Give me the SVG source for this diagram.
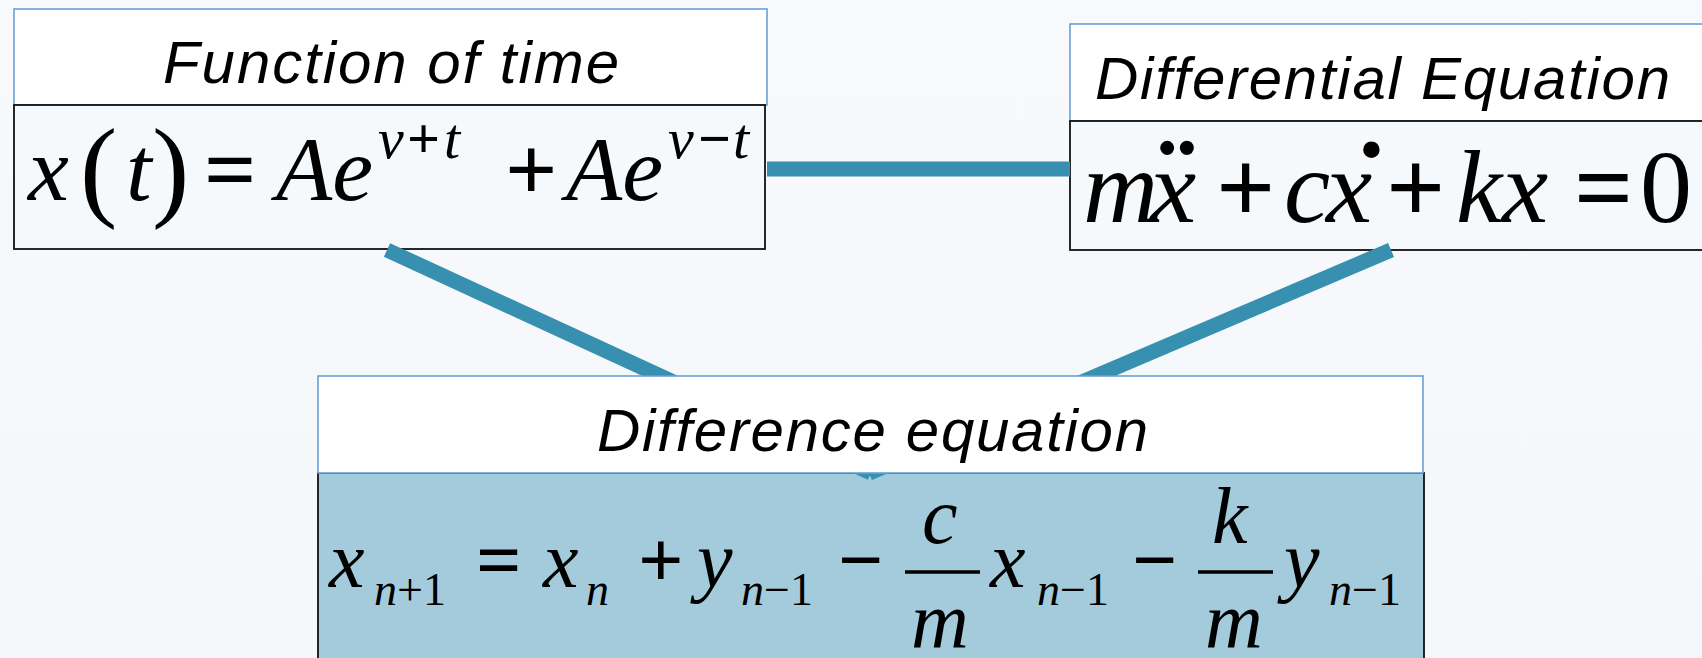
<svg xmlns="http://www.w3.org/2000/svg" width="1702" height="658" viewBox="0 0 1702 658">
<defs>
<linearGradient id="bg" x1="0" y1="0" x2="0" y2="1">
<stop offset="0" stop-color="#f8f9fd"/>
<stop offset="1" stop-color="#f4f8fa"/>
</linearGradient>
<style>
.hdr{fill:#ffffff;stroke:#6a9fd6;stroke-width:1.6}
.body{fill:#f6f9fb;stroke:#111111;stroke-width:1.8}
.body3{fill:#a3cbdb;stroke:#111111;stroke-width:1.8}
.title{font-family:"Liberation Sans",Arial,sans-serif;font-style:italic;font-size:60px;fill:#000}
.mi{font-family:"Liberation Serif","Times New Roman",serif;font-style:italic;fill:#000}
.mo{font-family:"Liberation Serif","Times New Roman",serif;fill:#000}
.op{font-family:"Liberation Serif","Times New Roman",serif;font-weight:bold;fill:#000}
.conn{stroke:#3890b0;stroke-width:15;fill:none;stroke-linecap:butt}
.bar{stroke:#000;stroke-width:3.5}
</style>
</defs>
<rect x="0" y="0" width="1702" height="658" fill="url(#bg)"/>

<g id="node-function">
<rect class="hdr" x="14" y="9" width="753" height="96"/>
<rect class="body" x="14" y="105" width="751" height="144"/>
<text class="title" x="163" y="83" textLength="456" lengthAdjust="spacing">Function of time</text>
<g font-size="92">
<text class="mi" x="28" y="200">x</text>
<text class="mo" x="80" y="206" font-size="112">(</text>
<text class="mi" x="126" y="200">t</text>
<text class="mo" x="152" y="206" font-size="112">)</text>
<text class="op" x="204" y="200">=</text>
<text class="mi" x="276" y="200">Ae</text>
<text class="mi" x="378" y="158" font-size="58">ν</text>
<text class="op" x="407" y="158" font-size="58">+</text>
<text class="mi" x="444" y="158" font-size="58">t</text>
<text class="op" x="505" y="200">+</text>
<text class="mi" x="566" y="200">Ae</text>
<text class="mi" x="668" y="158" font-size="58">ν</text>
<text class="op" x="698" y="158" font-size="58">−</text>
<text class="mi" x="733" y="158" font-size="58">t</text>
</g>
</g>

<g id="node-differential">
<rect class="hdr" x="1070" y="24" width="650" height="97"/>
<rect class="body" x="1070" y="121" width="650" height="129"/>
<text class="title" x="1095" y="99" textLength="575" lengthAdjust="spacing">Differential Equation</text>
<g font-size="104">
<text class="mi" x="1083" y="222">m</text>
<text class="mi" x="1150" y="222">x</text>
<text class="op" x="1157" y="222" font-size="120">¨</text>
<text class="op" x="1216" y="222">+</text>
<text class="mi" x="1284" y="222">c</text>
<text class="mi" x="1326" y="222">x</text>
<text class="op" x="1353" y="218" font-size="110">˙</text>
<text class="op" x="1386" y="222">+</text>
<text class="mi" x="1456" y="222">k</text>
<text class="mi" x="1502" y="222">x</text>
<text class="op" x="1574" y="222">=</text>
<text class="mo" x="1640" y="222">0</text>
</g>
</g>

<g id="node-difference-body">
<rect class="body3" x="318" y="473" width="1106" height="200"/>
<g font-size="80">
<text class="mi" x="329" y="587">x</text>
<text x="374" y="605" font-size="46"><tspan class="mi">n</tspan><tspan class="mo">+1</tspan></text>
<text class="op" x="476" y="587">=</text>
<text class="mi" x="543" y="587">x</text>
<text class="mi" x="586" y="605" font-size="46">n</text>
<text class="op" x="638" y="587">+</text>
<text class="mi" x="697" y="587">y</text>
<text x="741" y="605" font-size="46"><tspan class="mi">n</tspan><tspan class="mo">−1</tspan></text>
<text class="op" x="838" y="587">−</text>
<line class="bar" x1="905" y1="572" x2="980" y2="572"/>
<text class="mi" x="922" y="543">c</text>
<text class="mi" x="911" y="647">m</text>
<text class="mi" x="990" y="587">x</text>
<text x="1037" y="605" font-size="46"><tspan class="mi">n</tspan><tspan class="mo">−1</tspan></text>
<text class="op" x="1132" y="587">−</text>
<line class="bar" x1="1198" y1="572" x2="1273" y2="572"/>
<text class="mi" x="1212" y="543">k</text>
<text class="mi" x="1205" y="647">m</text>
<text class="mi" x="1284" y="587">y</text>
<text x="1329" y="605" font-size="46"><tspan class="mi">n</tspan><tspan class="mo">−1</tspan></text>
</g>
</g>

<g id="connectors">
<line class="conn" x1="767" y1="169" x2="1070" y2="169"/>
<line class="conn" x1="387" y1="250" x2="871" y2="473"/>
<line class="conn" x1="1391" y1="250" x2="869" y2="473"/>
</g>

<g id="node-difference">
<rect class="hdr" x="318" y="376" width="1105" height="97"/>
<text class="title" x="597" y="451" textLength="551" lengthAdjust="spacing">Difference equation</text>
</g>
</svg>
